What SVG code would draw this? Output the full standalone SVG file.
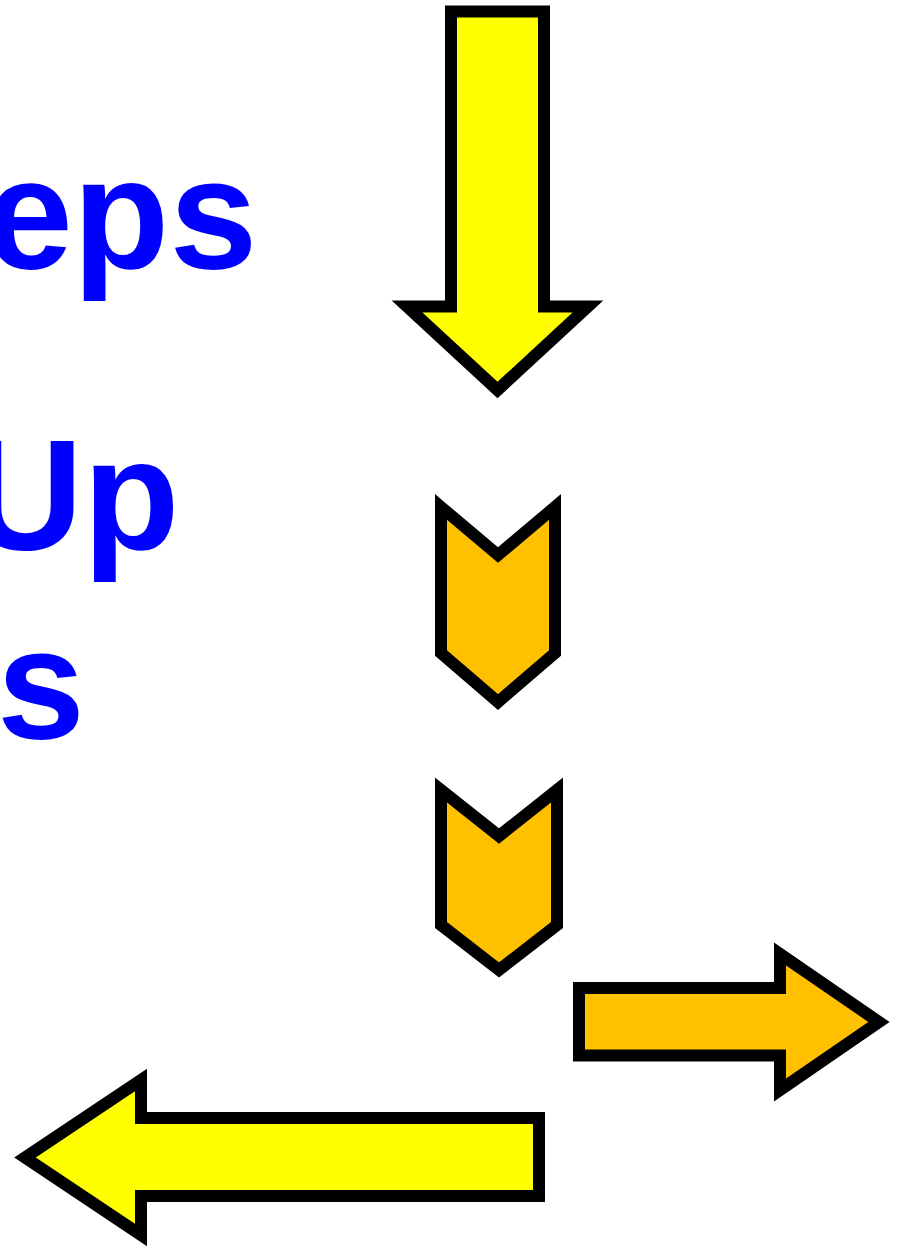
<svg xmlns="http://www.w3.org/2000/svg" width="901" height="1247" viewBox="0 0 901 1247">
<style>
.t{font-family:"Liberation Sans",Arial,sans-serif;font-weight:bold;font-size:158px;fill:#0000FF}
.a{stroke:#000;stroke-width:12;stroke-linejoin:miter;stroke-miterlimit:10}
.y{fill:#FFFF00}
.o{fill:#FFC000}
</style>
<rect width="901" height="1247" fill="#fff"/>
<g id="text">
<text class="t" x="-15" y="268">eps</text>
<text class="t" x="-31" y="549">Up</text>
<text class="t" x="-3" y="738">s</text>
</g>
<g id="connectors">
<g id="arrow-down"><polygon class="a y" points="451,11.5 544,11.5 544,306.5 588,306.5 497.5,390 407,306.5 451,306.5"/></g>
<g id="chevron-1"><polygon class="a o" points="441,507 498,555 555,507 555,653 498,702 441,653"/></g>
<g id="chevron-2"><polygon class="a o" points="441,790 499,836 557,790 557,925 499,970 441,925"/></g>
<g id="arrow-right"><polygon class="a o" points="579,988 780,988 780,954 879,1022 780,1090 780,1055.5 579,1055.5"/></g>
<g id="arrow-left"><polygon class="a y" points="539,1118 141,1118 141,1080 25,1157.5 141,1235 141,1196 539,1196"/></g>
</g>
</svg>
